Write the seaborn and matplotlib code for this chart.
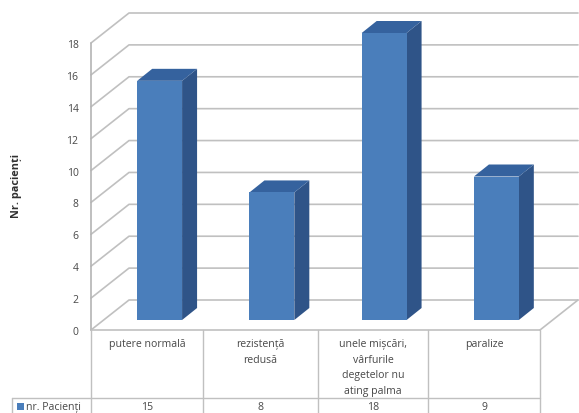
import matplotlib
matplotlib.use("Agg")
import matplotlib.pyplot as plt
import pandas as pd
import seaborn as sns
from matplotlib.lines import Line2D
from matplotlib.patches import Polygon, Rectangle
from matplotlib.transforms import Affine2D, IdentityTransform

categories = ["putere normală", "rezistență\nredusă",
              "unele mișcări,\nvârfurile\ndegetelor nu\nating palma", "paralize"]
patients = [15, 8, 18, 9]
series_name = "nr. Pacienți"
y_title = "Nr. pacienți"
y_ticks = list(range(0, 19, 2))

FRONT = "#4a7ebb"
SIDE = "#2f5488"
TOP = "#35629e"
GRID = "#c0c0c0"
TEXT = "#484848"

W, H = 579, 414
sns.set_theme(style="white")
plt.rcParams["font.family"] = ["Open Sans", "DejaVu Sans"]

fig = plt.figure(figsize=(W / 100, H / 100), dpi=100, facecolor="white")
# Plot plane of the value axis, in figure fractions
ax = fig.add_axes([91 / W, 1 - 331 / H, 449 / W, 287 / H])
ax.set_zorder(3)
df = pd.DataFrame({"cat": categories, "n": patients})
sns.barplot(data=df, x="cat", y="n", color=FRONT, saturation=1, width=0.4, ax=ax, zorder=5)
ax.set_ylim(0, 18)
ax.set_xlim(-0.5, 3.5)
ax.set_xlabel("")
ax.set_ylabel("")
ax.set_xticks([])
ax.set_yticks(y_ticks)
ax.tick_params(axis="y", length=0, pad=9, labelsize=7.5, labelcolor=TEXT)
ax.patch.set_visible(False)
for s in ax.spines.values():
    s.set_visible(False)
fig.canvas.draw()

px = IdentityTransform()
axis_tr = ax.get_yaxis_transform()


def line(points, color=GRID, lw=1.2, z=1):
    xs, ys = zip(*points)
    fig.add_artist(Line2D(xs, ys, transform=px, color=color, lw=lw, zorder=z))


# Depth of the chart box and of the bars, in pixels
box_dx, box_dy = 38, 30
bar_dx, bar_dy = 12.5, 10
side_dx, side_dy = 15, 12

for v in y_ticks:
    x0, y0 = axis_tr.transform((0, v))
    x1, _ = axis_tr.transform((1, v))
    line([(x0, y0), (x0 + box_dx, y0 + box_dy), (x1 + box_dx, y0 + box_dy)])

x0, y_low = axis_tr.transform((0, 0))
_, y_high = axis_tr.transform((0, 18))
x1, _ = axis_tr.transform((1, 0))
line([(x0, y_low), (x0, y_high)], color="#b4b4b4")
line([(x1, y_low), (x1 + box_dx, y_low + box_dy)])

# Shift the seaborn bars into the box and give them a side and a top face
shift = Affine2D().translate(bar_dx, bar_dy)
for bar in ax.patches:
    (l, b), (r, t) = ax.transData.transform(
        [(bar.get_x(), 0), (bar.get_x() + bar.get_width(), bar.get_height())])
    l += bar_dx; r += bar_dx; b += bar_dy; t += bar_dy
    bar.set_transform(ax.transData + shift)
    bar.set_clip_on(False)
    bar.set_edgecolor("none")
    ax.add_artist(Polygon([(r, b), (r + side_dx, b + side_dy), (r + side_dx, t + side_dy), (r, t)],
                          closed=True, transform=px, fc=SIDE, ec="none", zorder=4, clip_on=False))
    ax.add_artist(Polygon([(l, t), (r, t), (r + side_dx, t + side_dy), (l + side_dx, t + side_dy)],
                          closed=True, transform=px, fc=TOP, ec="none", zorder=4, clip_on=False))

# Data table under the category axis
col_edges = [91, 203, 318, 428, 540]
table_top, row_top, table_bottom = 331, 399, 414


def yp(y):
    return H - y


line([(col_edges[0], yp(table_top)), (col_edges[-1], yp(table_top))])
line([(12, yp(row_top)), (col_edges[-1], yp(row_top))], lw=1)
line([(12, yp(row_top)), (12, yp(table_bottom))], lw=1)
for e in col_edges:
    line([(e, yp(table_top)), (e, yp(table_bottom))], lw=1)

label_style = dict(transform=px, ha="center", va="center", fontsize=7.6, color=TEXT, zorder=6)
line_step = 15.7
for left, right, name, n in zip(col_edges[:-1], col_edges[1:], categories, patients):
    cx = (left + right) / 2
    for i, part in enumerate(name.split("\n")):
        fig.text(cx, yp(344.5 + i * line_step), part, **label_style)
    fig.text(cx, yp(407.5), str(n), **label_style)

fig.add_artist(Rectangle((17, yp(411)), 7, 7, transform=px, fc=FRONT, ec="none"))
fig.text(26, yp(407.5), series_name, transform=px, ha="left", va="center", fontsize=7.6, color=TEXT)
fig.text(16, yp(186), y_title, transform=px, rotation=90, ha="center", va="center",
         fontsize=7.8, fontweight="bold", color="#303030")

fig.savefig("out.png", dpi=100, facecolor="white")
